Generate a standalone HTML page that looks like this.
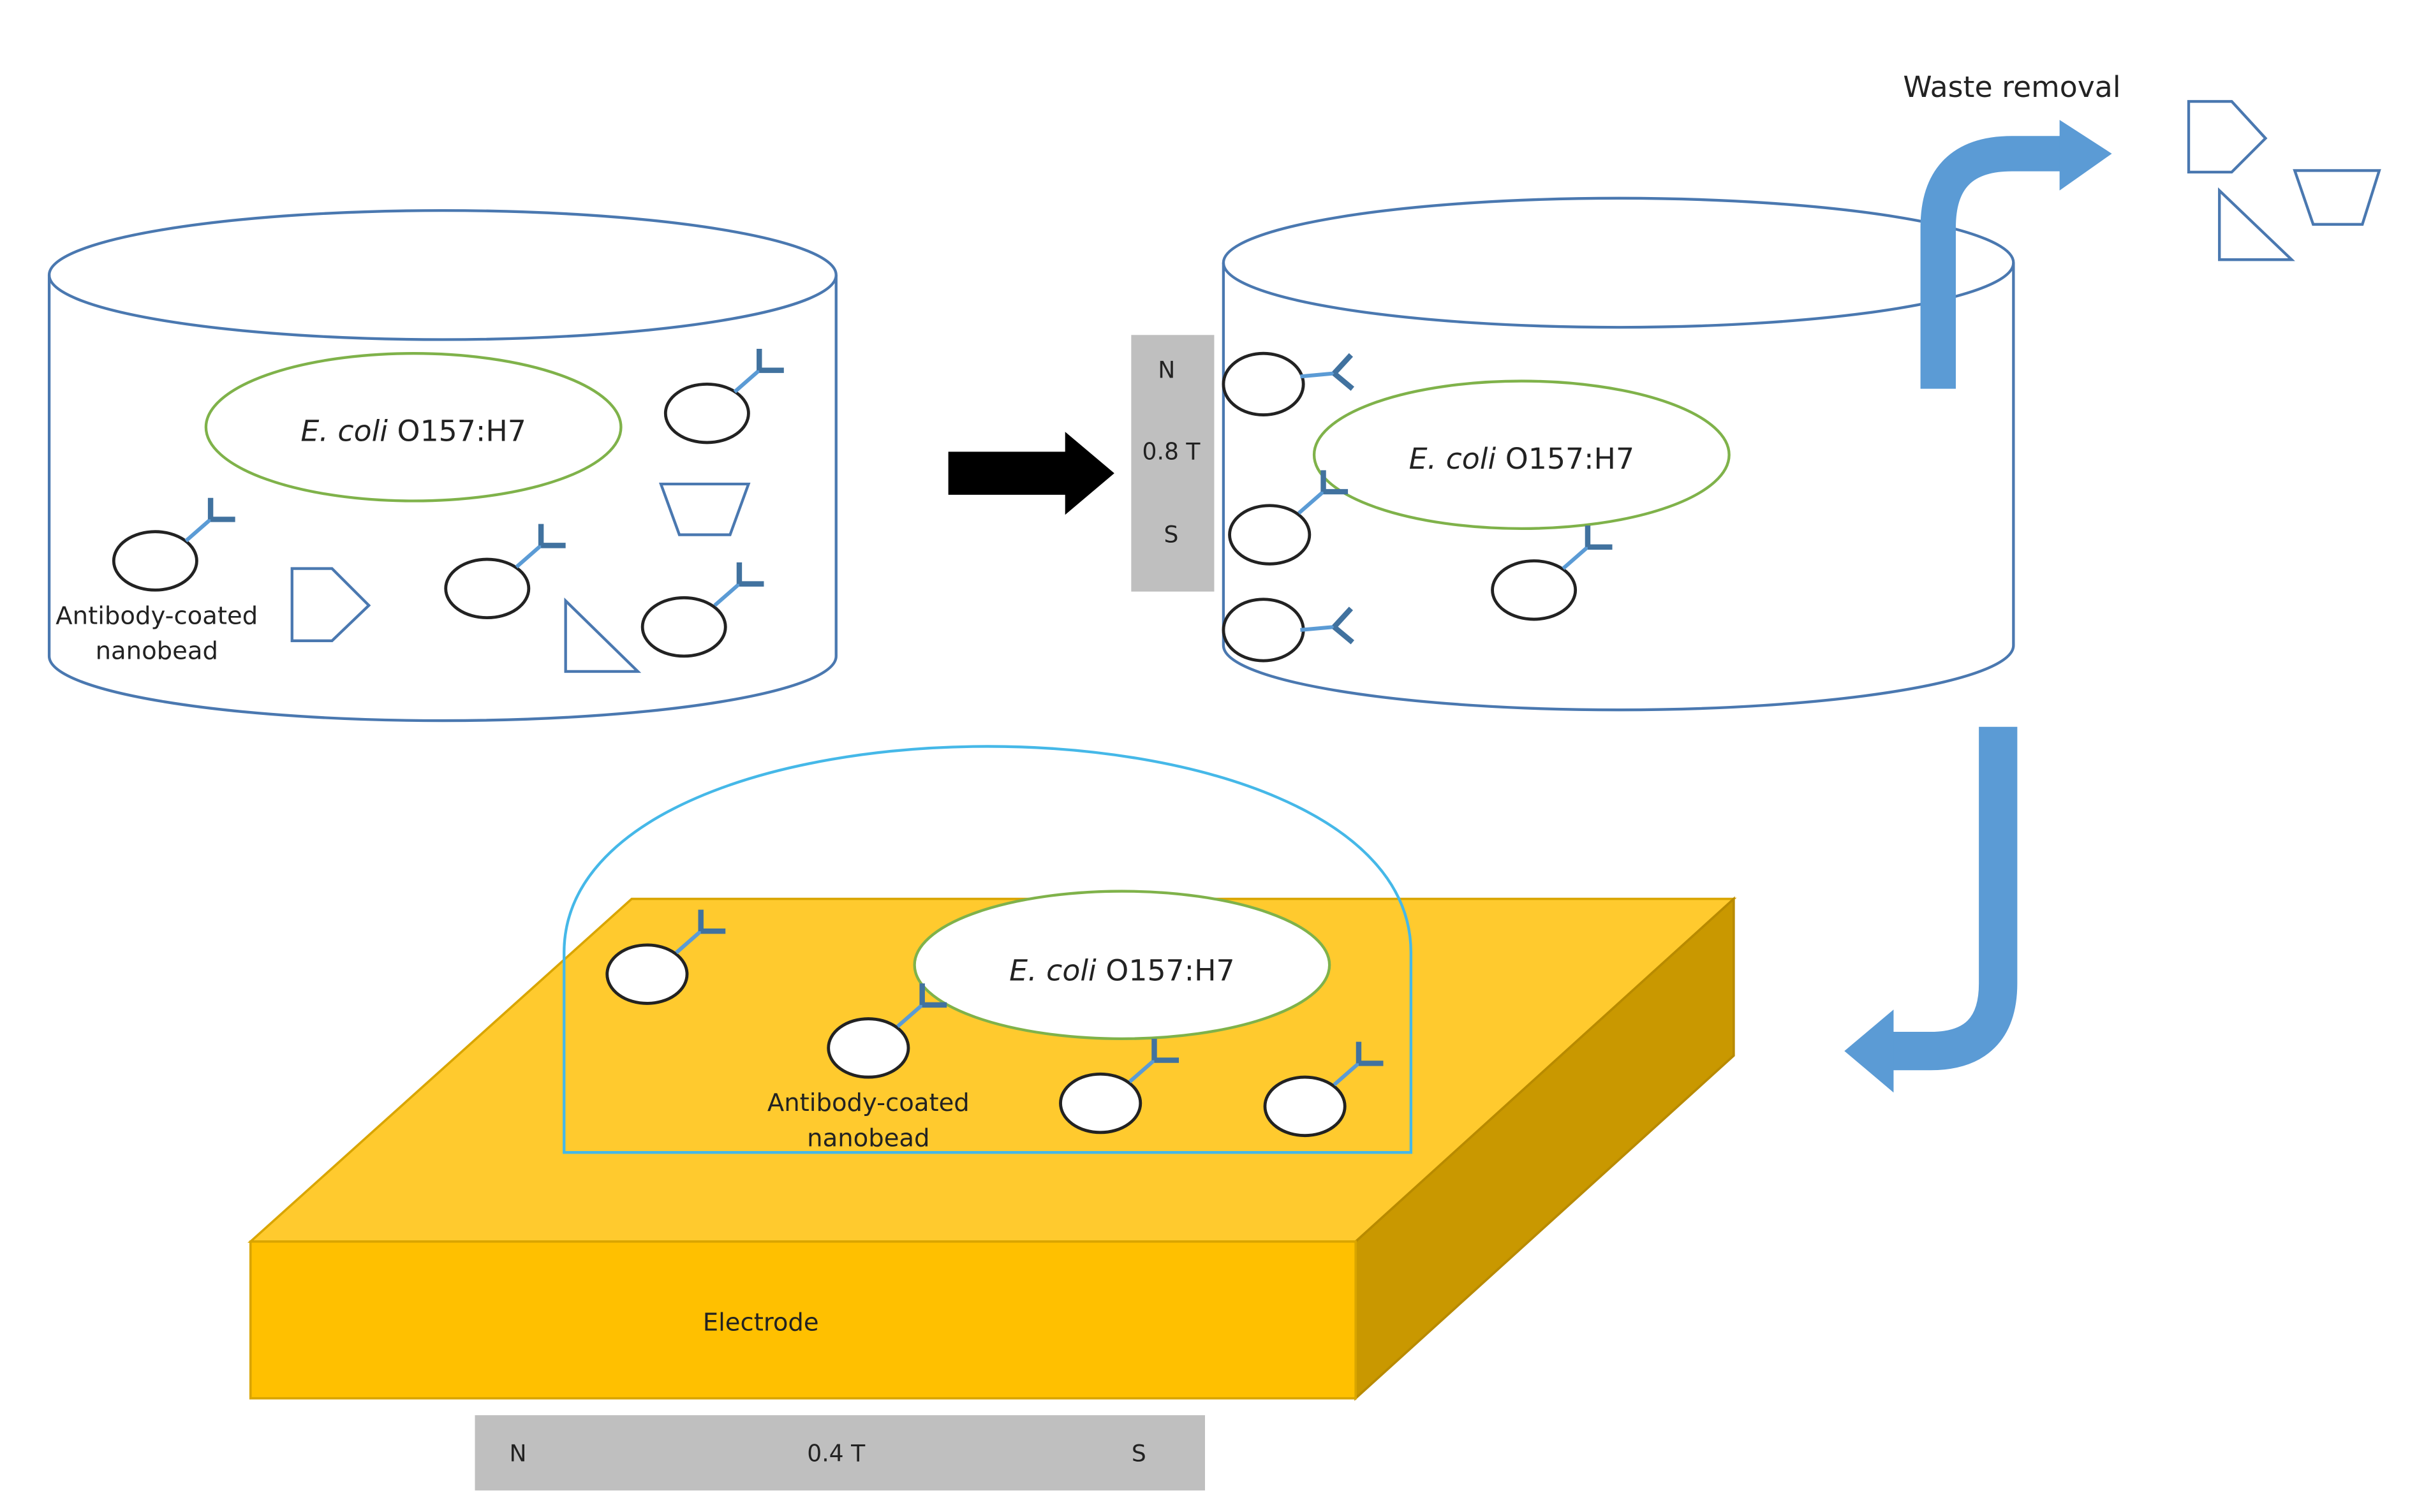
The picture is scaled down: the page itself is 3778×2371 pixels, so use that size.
<!DOCTYPE html>
<html><head><meta charset="utf-8"><style>html,body{margin:0;padding:0;background:#fff}svg{display:block}text{font-family:"DejaVu Sans","Liberation Sans",sans-serif;fill:#222}</style></head><body>
<svg width="3778" height="2371" viewBox="0 0 1568 984" preserveAspectRatio="none" xmlns="http://www.w3.org/2000/svg">
<defs>
<g id="abUR"><path d="M0,0 L16,-14" stroke="#5b9bd5" stroke-width="2.5" fill="none"/><path d="M16,-14 V-28 M16,-14 H32" stroke="#41729f" stroke-width="3.5" fill="none"/></g>
<g id="abR"><path d="M0,0 L22,-2" stroke="#5b9bd5" stroke-width="2.5" fill="none"/><path d="M22,-2 L33,-14 M22,-2 L34,8" stroke="#41729f" stroke-width="3.5" fill="none"/></g>
</defs>
<g fill="none" stroke="#4a78b0" stroke-width="1.8">
<path d="M32,179 V427 A256,42 0 0 0 544,427 V179"/>
<ellipse cx="288" cy="179" rx="256" ry="42"/>
</g>
<ellipse cx="269" cy="278" rx="135" ry="48" fill="none" stroke="#7fb24a" stroke-width="1.8"/>
<text x="269" y="287" font-size="19" text-anchor="middle"><tspan font-style="italic">E. coli</tspan> O157:H7</text>
<g fill="none" stroke="#222" stroke-width="2">
<ellipse cx="460" cy="269" rx="27" ry="19"/>
<ellipse cx="101" cy="365" rx="27" ry="19"/>
<ellipse cx="317" cy="383" rx="27" ry="19"/>
<ellipse cx="445" cy="408" rx="27" ry="19"/>
</g>
<use href="#abUR" x="478" y="255"/>
<use href="#abUR" x="121" y="352"/>
<use href="#abUR" x="336" y="369"/>
<use href="#abUR" x="465" y="394"/>
<g fill="none" stroke="#4a78b0" stroke-width="1.8">
<polygon points="430,315 487,315 475,348 442,348"/>
<polygon points="190,370 216,370 240,394 216,417 190,417"/>
<polygon points="368,391 368,437 415,437"/>
</g>
<text x="102" y="406" font-size="16" text-anchor="middle">Antibody-coated</text>
<text x="102" y="429" font-size="16" text-anchor="middle">nanobead</text>
<polygon points="617,294 693,294 693,281 725,308 693,335 693,322 617,322" fill="#000"/>
<rect x="736" y="218" width="54" height="167" fill="#bfbfbf"/>
<text x="759" y="246" font-size="15" text-anchor="middle">N</text>
<text x="762" y="299" font-size="15" text-anchor="middle">0.8 T</text>
<text x="762" y="353" font-size="15" text-anchor="middle">S</text>
<g fill="none" stroke="#4a78b0" stroke-width="1.8">
<path d="M796,171 V420 A257,42 0 0 0 1310,420 V171"/>
<ellipse cx="1053" cy="171" rx="257" ry="42"/>
</g>
<ellipse cx="990" cy="296" rx="135" ry="48" fill="none" stroke="#7fb24a" stroke-width="1.8"/>
<text x="990" y="305" font-size="19" text-anchor="middle"><tspan font-style="italic">E. coli</tspan> O157:H7</text>
<g fill="none" stroke="#222" stroke-width="2">
<ellipse cx="822" cy="250" rx="26" ry="20"/>
<ellipse cx="826" cy="348" rx="26" ry="19"/>
<ellipse cx="822" cy="410" rx="26" ry="20"/>
<ellipse cx="998" cy="384" rx="27" ry="19"/>
</g>
<use href="#abR" x="846" y="245"/>
<use href="#abUR" x="845" y="334"/>
<use href="#abR" x="846" y="410"/>
<use href="#abUR" x="1017" y="370"/>
<path d="M1261,253 V148 Q1261,100 1309,100 H1342" fill="none" stroke="#5b9bd5" stroke-width="23"/>
<polygon points="1340,78 1374,100 1340,124" fill="#5b9bd5"/>
<path d="M1300,473 V640 Q1300,684 1256,684 H1230" fill="none" stroke="#5b9bd5" stroke-width="25"/>
<polygon points="1232,657 1200,684 1232,711" fill="#5b9bd5"/>
<text x="1309" y="63" font-size="19" text-anchor="middle">Waste removal</text>
<g fill="none" stroke="#4a78b0" stroke-width="1.8">
<polygon points="1424,66 1452,66 1474,90 1452,112 1424,112"/>
<polygon points="1493,111 1548,111 1537,146 1505,146"/>
<polygon points="1444,124 1444,169 1491,169"/>
</g>
<polygon points="411,585 1128,585 882,808 163,808" fill="#ffca2e" stroke="#d9a500" stroke-width="1.5"/>
<polygon points="1128,585 1128,687 882,910 882,808" fill="#c99800" stroke="#b88a00" stroke-width="1.5"/>
<rect x="163" y="808" width="719" height="102" fill="#ffc000" stroke="#d9a500" stroke-width="1.5"/>
<text x="495" y="866" font-size="16" text-anchor="middle">Electrode</text>
<path d="M367,750 V620 C367,441 918,441 918,620 V750 Z" fill="none" stroke="#45b8e8" stroke-width="1.8"/>
<ellipse cx="730" cy="628" rx="135" ry="48" fill="#fff" stroke="#7fb24a" stroke-width="1.8"/>
<text x="730" y="638" font-size="19" text-anchor="middle"><tspan font-style="italic">E. coli</tspan> O157:H7</text>
<g fill="#fff" stroke="#222" stroke-width="2">
<ellipse cx="421" cy="634" rx="26" ry="19"/>
<ellipse cx="565" cy="682" rx="26" ry="19"/>
<ellipse cx="716" cy="718" rx="26" ry="19"/>
<ellipse cx="849" cy="720" rx="26" ry="19"/>
</g>
<use href="#abUR" x="440" y="620"/>
<use href="#abUR" x="584" y="668"/>
<use href="#abUR" x="735" y="704"/>
<use href="#abUR" x="868" y="706"/>
<text x="565" y="723" font-size="16" text-anchor="middle">Antibody-coated</text>
<text x="565" y="746" font-size="16" text-anchor="middle">nanobead</text>
<rect x="309" y="921" width="475" height="49" fill="#bfbfbf"/>
<text x="337" y="951" font-size="15" text-anchor="middle">N</text>
<text x="544" y="951" font-size="15" text-anchor="middle">0.4 T</text>
<text x="741" y="951" font-size="15" text-anchor="middle">S</text>
</svg>
</body></html>
